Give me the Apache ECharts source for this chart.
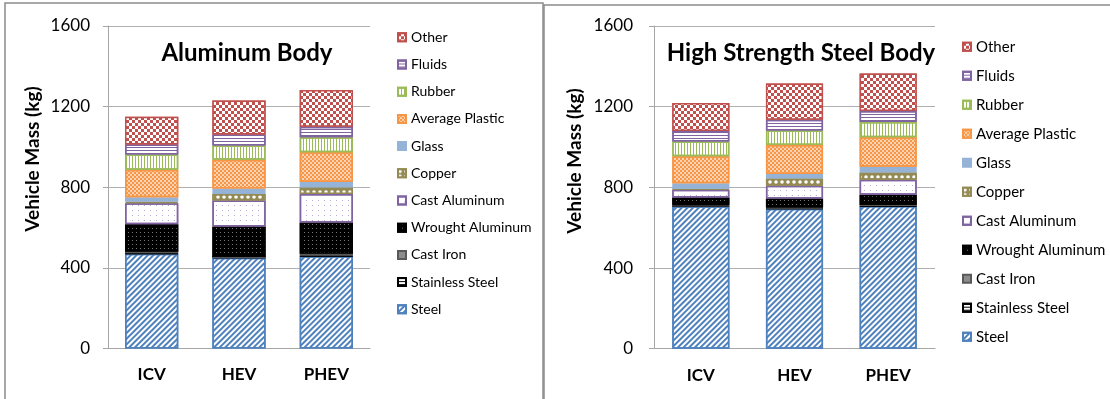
<!DOCTYPE html>
<html><head><meta charset="utf-8">
<script src="https://cdn.jsdelivr.net/npm/echarts@6/dist/echarts.min.js"></script>
<style>html,body{margin:0;padding:0;background:#fff}#c{width:1110px;height:399px}</style>
</head><body><div id="c"></div>
<script>
const categories = ['ICV', 'HEV', 'PHEV'];
const materials = ['Steel','Stainless Steel','Cast Iron','Wrought Aluminum','Cast Aluminum','Copper','Glass','Average Plastic','Rubber','Fluids','Other'];
const yTicks = [0, 400, 800, 1200, 1600];
const titles = ['Aluminum Body', 'High Strength Steel Body'];
const yTitle = 'Vehicle Mass (kg)';
// values per vehicle, in material order (bottom to top)
const alICV  = [470, 2, 8, 137, 104, 7, 23, 136, 75, 50, 138];
const alHEV  = [450, 2, 2, 151, 129, 32, 28, 143, 70, 55, 169];
const alPHEV = [458, 2, 10, 155, 141, 33, 27, 148, 74, 52, 183];
const hsICV  = [705, 2, 4, 39, 38, 4, 28, 134, 73, 53, 138];
const hsHEV  = [694, 2, 4, 45, 63, 36, 22, 144, 72, 53, 180];
const hsPHEV = [707, 2, 4, 50, 75, 36, 28, 147, 75, 54, 186];

const styles = {
  'Steel': {color:'#fff', borderColor:'#4F81BD', decal:{symbol:'rect', color:'#4F81BD', dashArrayX:[1,0], dashArrayY:[1.5,2], rotation:-Math.PI/4}},
  'Stainless Steel': {color:'#fff', borderColor:'#000', decal:{symbol:'rect', color:'#000', dashArrayX:[1,0], dashArrayY:[1,2]}},
  'Cast Iron': {color:'#8c8c8c', borderColor:'#595959'},
  'Wrought Aluminum': {color:'#000', borderColor:'#000', decal:{symbol:'rect', color:'#777', dashArrayX:[1,3], dashArrayY:[1,3]}},
  'Cast Aluminum': {color:'#fff', borderColor:'#8064A2', decal:{symbol:'rect', color:'#B8ABCF', dashArrayX:[1,5], dashArrayY:[1,4]}},
  'Copper': {color:'#948A54', borderColor:'#948A54', decal:{symbol:'circle', symbolSize:0.9, color:'#fff', dashArrayX:[4,2], dashArrayY:[4,1]}},
  'Glass': {color:'#95B3D7', borderColor:'#95B3D7'},
  'Average Plastic': {color:'#FBD3B2', borderColor:'#F79646', decal:{symbol:'rect', color:'#F79646', dashArrayX:[[1.5,1.5],[0,1.5,1.5,0]], dashArrayY:[1.5,0]}},
  'Rubber': {color:'#fff', borderColor:'#9BBB59', decal:{symbol:'rect', color:'#9BBB59', dashArrayX:[1,2], dashArrayY:[1,0]}},
  'Fluids': {color:'#fff', borderColor:'#8064A2', decal:{symbol:'rect', color:'#8064A2', dashArrayX:[1,0], dashArrayY:[1,2]}},
  'Other': {color:'#C0504D', borderColor:'#C0504D', decal:{symbol:'rect', color:'#fff', dashArrayX:[[3,3],[0,3,3,0]], dashArrayY:[3,0]}}
};

const FONT = 'Lato, "Open Sans", sans-serif';
const grids = [
  {left:108, top:26, width:262, height:322.5},
  {left:654, top:26, width:281, height:322.7}
];
function xAx(i){return {type:'category', gridIndex:i, data:categories,
  axisLine:{lineStyle:{color:'#A6A6A6'}}, axisTick:{length:5, lineStyle:{color:'#A6A6A6'}},
  axisLabel:{margin:18, color:'#000', fontFamily:FONT, fontWeight:'bold', fontSize:17}};}
function yAx(i){return {type:'value', gridIndex:i, min:yTicks[0], max:yTicks[yTicks.length-1], interval:400,
  axisLine:{show:true, lineStyle:{color:'#A6A6A6'}}, axisTick:{show:true, length:5, lineStyle:{color:'#A6A6A6'}},
  splitLine:{lineStyle:{color:'#B0B0B0'}},
  axisLabel:{margin:i===0?18:21, color:'#000', fontFamily:FONT, fontSize:17, formatter:v => String(v)}};}

const bodies = [[alICV, alHEV, alPHEV], [hsICV, hsHEV, hsPHEV]];
const series = [];
bodies.forEach((vals, gi) => {
  materials.forEach((m, k) => {
    const s = styles[m];
    const itemStyle = {color:s.color, borderColor:s.borderColor, borderWidth:1.5};
    if (s.decal) itemStyle.decal = s.decal;
    series.push({name:m, type:'bar', stack:'s'+gi, xAxisIndex:gi, yAxisIndex:gi,
      barCategoryGap:'39%',
      data: vals.map(v => v[k]),
      itemStyle:itemStyle,
      emphasis:{disabled:true}});
  });
});
const legendData = materials.slice().reverse();
function legend(i){
  const fs = i===0 ? 14 : 15;
  const gap = i===0 ? 27.2 : 29;
  return {orient:'vertical', left: i===0 ? 397 : 962, top: i===0 ? 37.3-fs/2 : 46.7-fs/2,
    padding:0,
    data:legendData, icon:'rect', itemWidth:8, itemHeight:8, itemGap:gap-fs, itemTextGap:6,
    selectedMode:false,
    textStyle:{fontFamily:FONT, fontSize:fs, lineHeight:fs, color:'#000'}};
}
const option = {
  animation:false,
  grid:grids, xAxis:[xAx(0), xAx(1)], yAxis:[yAx(0), yAx(1)],
  legend:[legend(0), legend(1)],
  series:series,
  graphic:[
    {type:'rect', shape:{x:5, y:3, width:538, height:430}, style:{fill:'none', stroke:'#8C8C8C', lineWidth:1.5}, silent:true, z:-10},
    {type:'rect', shape:{x:544, y:5, width:600, height:430}, style:{fill:'none', stroke:'#8C8C8C', lineWidth:1.5}, silent:true, z:-10},
    {type:'text', x:247, y:53, style:{text:titles[0], fontFamily:FONT, fontWeight:'bold', fontSize:24, fill:'#000', textAlign:'center', textVerticalAlign:'middle'}},
    {type:'text', x:801, y:53, style:{text:titles[1], fontFamily:FONT, fontWeight:'bold', fontSize:24, fill:'#000', textAlign:'center', textVerticalAlign:'middle'}},
    {type:'text', x:33, y:159, rotation:Math.PI/2, style:{text:yTitle, fontFamily:FONT, fontWeight:'bold', fontSize:19, fill:'#000', textAlign:'center', textVerticalAlign:'middle'}},
    {type:'text', x:575, y:161, rotation:Math.PI/2, style:{text:yTitle, fontFamily:FONT, fontWeight:'bold', fontSize:19, fill:'#000', textAlign:'center', textVerticalAlign:'middle'}}
  ]
};
const chart = echarts.init(document.getElementById('c'), null, {renderer:'canvas'});
chart.setOption(option);
</script></body></html>
